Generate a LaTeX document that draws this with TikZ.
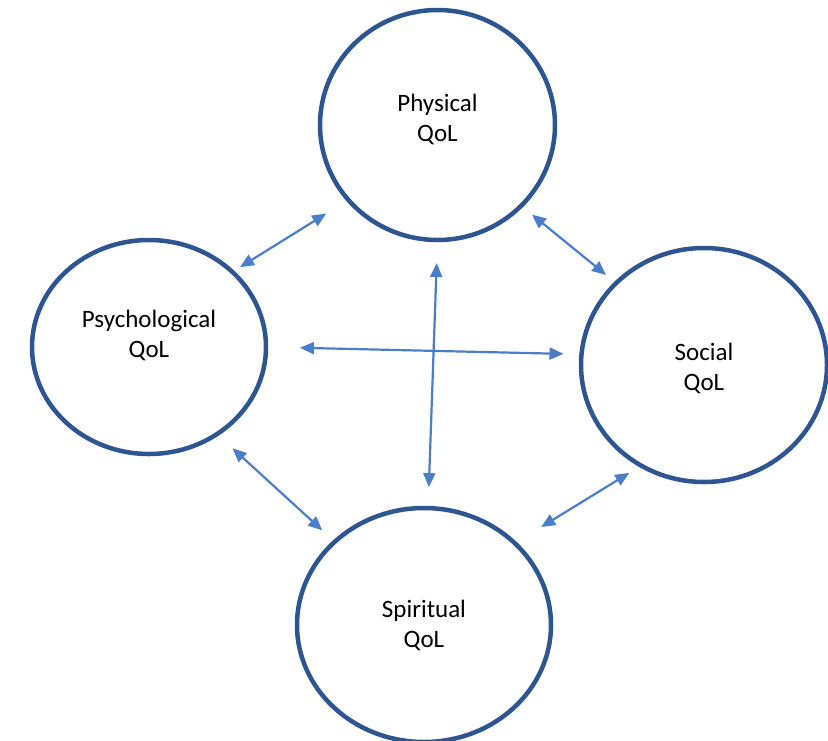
\documentclass[tikz,border=0pt]{standalone}
\usepackage{fontspec}
\setmainfont{Carlito}
\usetikzlibrary{arrows.meta,shapes.geometric}
\definecolor{ringblue}{HTML}{2D5690}
\definecolor{arrowblue}{HTML}{4A7EC8}

\begin{document}
\begin{tikzpicture}[x=1pt,y=-1pt,
    qol/.style={draw=ringblue,line width=4.5pt,ellipse,outer sep=0pt,inner sep=0pt},
    lbl/.style={align=center,font=\fontsize{25}{30}\selectfont},
    link/.style={draw=arrowblue,line width=2.2pt,
      {Triangle[length=14pt,width=12pt]}-{Triangle[length=14pt,width=12pt]}}]
  \useasboundingbox (0,0) rectangle (828,740);
  \node[qol,minimum width=235pt,minimum height=230pt,
    label={[lbl,yshift=6pt]center:Physical\\QoL}] (phy) at (437.5,125) {};
  \node[qol,minimum width=234pt,minimum height=214pt,
    label={[lbl,yshift=12pt]center:Psychological\\QoL}] (psy) at (149,347) {};
  \node[qol,minimum width=246pt,minimum height=234pt,
    label={[lbl,yshift=-3pt]center:Social\\QoL}] (soc) at (704,365) {};
  \node[qol,minimum width=254pt,minimum height=234pt,
    label={[lbl]center:Spiritual\\QoL}] (spi) at (424,625) {};
  % links between the domains
  \draw[link,shorten <=9pt,shorten >=26pt] (psy.42) -- (phy.220);
  \draw[link,shorten <=14pt,shorten >=13pt] (phy.316) -- (soc.137.5);
  \draw[link,shorten <=34pt,shorten >=18pt] (psy.0) -- (soc.175.5);
  \draw[link,shorten <=23pt,shorten >=21pt] (phy.270) -- (spi.88);
  \draw[link,shorten <=21pt,shorten >=17pt] (psy.308) -- (spi.137);
  \draw[link,shorten <=14pt,shorten >=31pt] (soc.238) -- (spi.42);
\end{tikzpicture}
\end{document}
